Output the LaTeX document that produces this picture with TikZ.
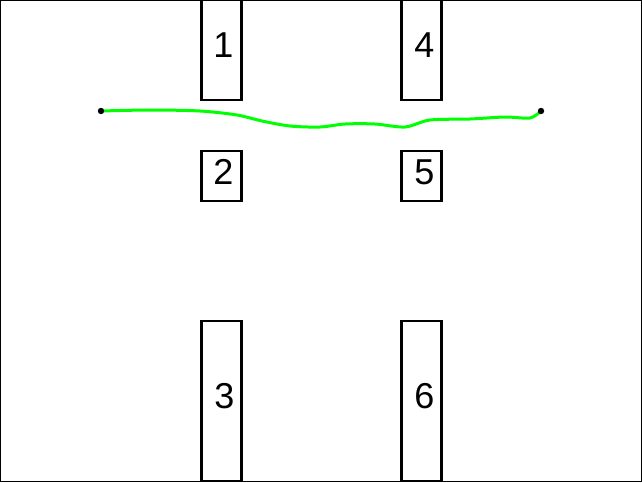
\documentclass[tikz,border=0pt]{standalone}
\usepackage{fontspec}
\setmainfont{Liberation Sans}
\usetikzlibrary{calc}

\tikzset{
  door/.style={draw,line width=2.4pt,minimum width=40pt,inner sep=0pt},
  digit/.style={font=\fontsize{36}{36}\selectfont},
  wire/.style={draw=green,line width=3pt,line join=round}
}

\begin{document}
\begin{tikzpicture}[x=1pt,y=-1pt]
  \useasboundingbox (0,0) rectangle (642,482);
  \draw[line width=1.2pt] (0.6,0.6) rectangle (641.4,481.4);
  \node[door,minimum height=100pt] (b1) at (221.3,50) {};
  \node[door,minimum height=50pt] (b2) at (221.3,176) {};
  \node[door,minimum height=160pt] (b3) at (221.3,401) {};
  \node[door,minimum height=100pt] (b4) at (421.3,50) {};
  \node[door,minimum height=50pt] (b5) at (421.3,176) {};
  \node[door,minimum height=160pt] (b6) at (421.3,401) {};
  \node[digit] at ($(b1.center)+(2,-5)$) {1};
  \node[digit] at ($(b2.center)+(2,-4)$) {2};
  \node[digit] at ($(b3.center)+(3,-5)$) {3};
  \node[digit] at ($(b4.center)+(3,-5)$) {4};
  \node[digit] at ($(b5.center)+(3,-4)$) {5};
  \node[digit] at ($(b6.center)+(3,-5)$) {6};
  \coordinate (start) at (101,111);
  \coordinate (stop) at (541,111);
  \draw[wire] plot[smooth,tension=0.5] coordinates {(start) (150,110) (200,111)
    (237,115) (262,121) (290,126) (320,127) (345,124) (375,124) (405,127)
    (430,120) (470,119) (505,117) (530,118) (stop)};
  \fill (start) circle (3.2pt);
  \fill (stop) circle (3.2pt);
\end{tikzpicture}
\end{document}
